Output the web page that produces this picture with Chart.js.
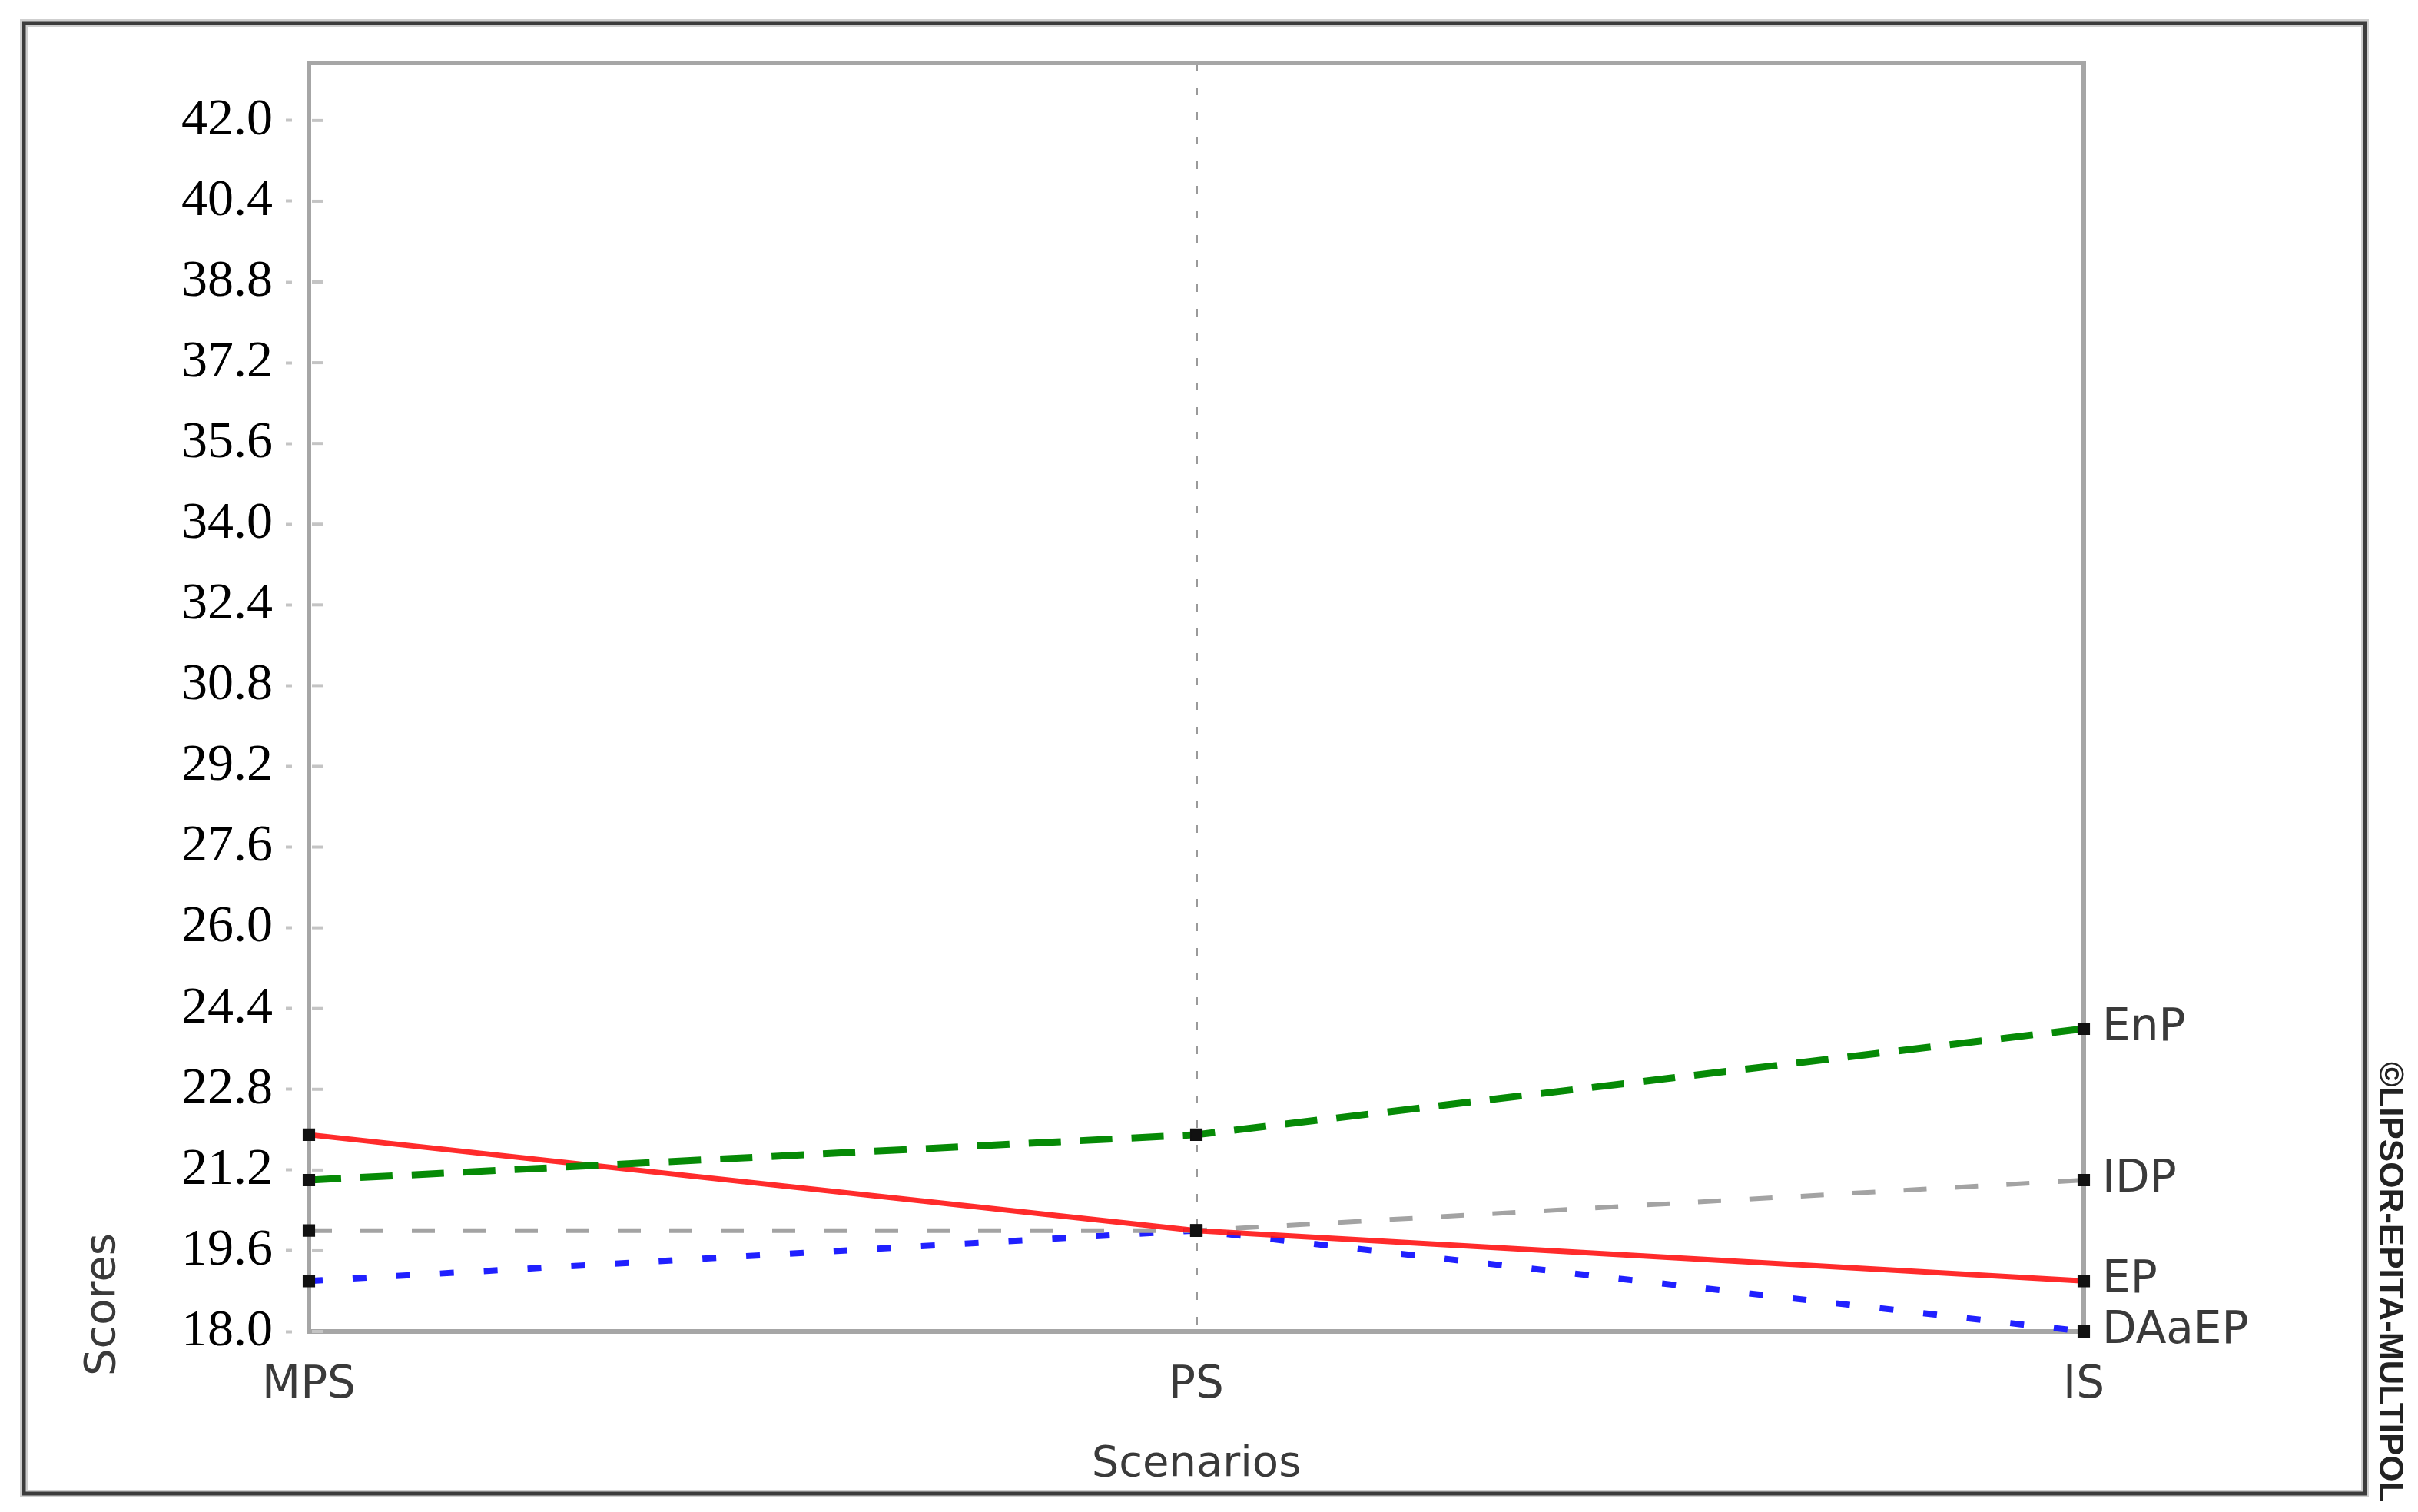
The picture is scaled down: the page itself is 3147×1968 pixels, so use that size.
<!DOCTYPE html>
<html lang="en">
<head>
<meta charset="UTF-8" />
<title>Scores by scenario</title>
<style>
  *{margin:0;padding:0;box-sizing:border-box;}
  body{background:#fff;width:3147px;height:1968px;overflow:hidden;}
  canvas{display:block;}
</style>
</head>
<body>
<canvas id="chart" width="3147" height="1968"></canvas>

<script src="https://cdn.jsdelivr.net/npm/chart.js@4.4.1/dist/chart.umd.min.js"></script>
<script>
/* ---- data ---- */
const scenarios = ['MPS', 'PS', 'IS'];
const seriesNames = ['EP', 'EnP', 'IDP', 'DAaEP'];
const epScores    = [21.9, 20.0, 19.0];
const enpScores   = [21.0, 21.9, 24.0];
const idpScores   = [20.0, 20.0, 21.0];
const daaepScores = [19.0, 20.0, 18.0];
const yTicks = [18.0, 19.6, 21.2, 22.8, 24.4, 26.0, 27.6, 29.2, 30.8, 32.4, 34.0, 35.6, 37.2, 38.8, 40.4, 42.0];

const sans = '"DejaVu Sans", Verdana, sans-serif';
const textGrey = '#3a3a3a';

/* frame, plot box, end labels, y title, watermark */
const decor = {
  id: 'decor',
  beforeDraw(chart) {
    const ctx = chart.ctx;
    ctx.save();
    ctx.fillStyle = '#fff';
    ctx.fillRect(0, 0, chart.width, chart.height);
    ctx.strokeStyle = '#cfcfcf';
    ctx.lineWidth = 10;
    ctx.strokeRect(31, 30, 3047, 1914);
    ctx.strokeStyle = '#3c3c3c';
    ctx.lineWidth = 5;
    ctx.strokeRect(31, 30, 3047, 1914);
    ctx.restore();
  },
  beforeDatasetsDraw(chart) {
    const ctx = chart.ctx;
    const a = chart.chartArea;
    const y = chart.scales.y;
    ctx.save();
    ctx.strokeStyle = '#a6a6a6';
    ctx.lineWidth = 6;
    ctx.strokeRect(a.left, a.top, a.right - a.left, a.bottom - a.top);
    // small dotted ticks just inside the left axis
    ctx.strokeStyle = '#c4c4c4';
    ctx.lineWidth = 4;
    yTicks.forEach(v => {
      const py = y.getPixelForValue(v);
      ctx.beginPath();
      ctx.moveTo(a.left + 4, py);
      ctx.lineTo(a.left + 18, py);
      ctx.stroke();
    });
    ctx.restore();
  },
  afterDatasetsDraw(chart) {
    const ctx = chart.ctx;
    ctx.save();
    // series names next to last point
    ctx.font = '58px ' + sans;
    ctx.fillStyle = textGrey;
    ctx.textAlign = 'left';
    ctx.textBaseline = 'middle';
    chart.data.datasets.forEach((ds, i) => {
      const pts = chart.getDatasetMeta(i).data;
      const p = pts[pts.length - 1];
      ctx.fillText(ds.label, p.x + 24, p.y);
    });

    // y title near the bottom of the axis
    ctx.save();
    ctx.translate(134, 1698);
    ctx.rotate(-Math.PI / 2);
    ctx.textAlign = 'center';
    ctx.font = '56px ' + sans;
    ctx.fillText('Scores', 0, 0);
    ctx.restore();

    // software stamp on the right edge
    ctx.save();
    ctx.translate(3109, 1382);
    ctx.rotate(Math.PI / 2);
    ctx.font = 'bold 44px "Liberation Sans", Arial, sans-serif';
    ctx.fillStyle = '#222';
    ctx.textAlign = 'left';
    ctx.fillText('©LIPSOR-EPITA-MULTIPOL', 0, 0);
    ctx.restore();

    ctx.restore();
  }
};

const markers = {
  pointStyle: 'rect',
  pointRadius: 10,
  pointBackgroundColor: '#111',
  pointBorderColor: '#111',
  pointBorderWidth: 2,
  tension: 0,
  fill: false,
  clip: false
};

new Chart(document.getElementById('chart'), {
  type: 'line',
  data: {
    labels: scenarios,
    datasets: [
      {label: seriesNames[1], data: enpScores,   borderColor: '#068a06', borderWidth: 9, borderDash: [42, 25], ...markers},
      {label: seriesNames[0], data: epScores,    borderColor: 'rgba(255,20,20,0.9)', borderWidth: 7, ...markers},
      {label: seriesNames[2], data: idpScores,   borderColor: '#a3a3a3', borderWidth: 6, borderDash: [30, 37], ...markers},
      {label: seriesNames[3], data: daaepScores, borderColor: '#2020ff', borderWidth: 8, borderDash: [18, 39], ...markers}
    ]
  },
  options: {
    responsive: false,
    animation: false,
    layout: {padding: {left: 0, top: 82, right: 435, bottom: 0}},
    plugins: {legend: {display: false}, tooltip: {enabled: false}},
    scales: {
      x: {
        type: 'category',
        offset: false,
        afterFit(s) { s.height = 235; },
        grid: {
          offset: false,
          drawTicks: false,
          lineWidth: 3,
          color: ctx => ctx.index === 1 ? '#9a9a9a' : 'rgba(0,0,0,0)'
        },
        border: {display: false, dash: [10, 22]},
        ticks: {font: {family: sans, size: 58}, color: textGrey, padding: 36},
        title: {display: true, text: 'Scenarios', font: {family: sans, size: 56}, color: textGrey, padding: {top: 0, bottom: 28}}
      },
      y: {
        min: 18,
        max: 43.14,
        afterFit(s) { s.width = 402; },
        afterBuildTicks(s) { s.ticks = yTicks.map(v => ({value: v})); },
        grid: {
          drawOnChartArea: false,
          drawTicks: true,
          tickLength: 30,
          tickColor: '#c4c4c4',
          tickWidth: 4,
          tickBorderDash: [8, 22]
        },
        border: {display: false},
        ticks: {
          font: {family: '"Liberation Serif", "Times New Roman", serif', size: 68},
          color: '#000',
          padding: 17,
          callback: v => Number(v).toFixed(1)
        }
      }
    }
  },
  plugins: [decor]
});
</script>
</body>
</html>
